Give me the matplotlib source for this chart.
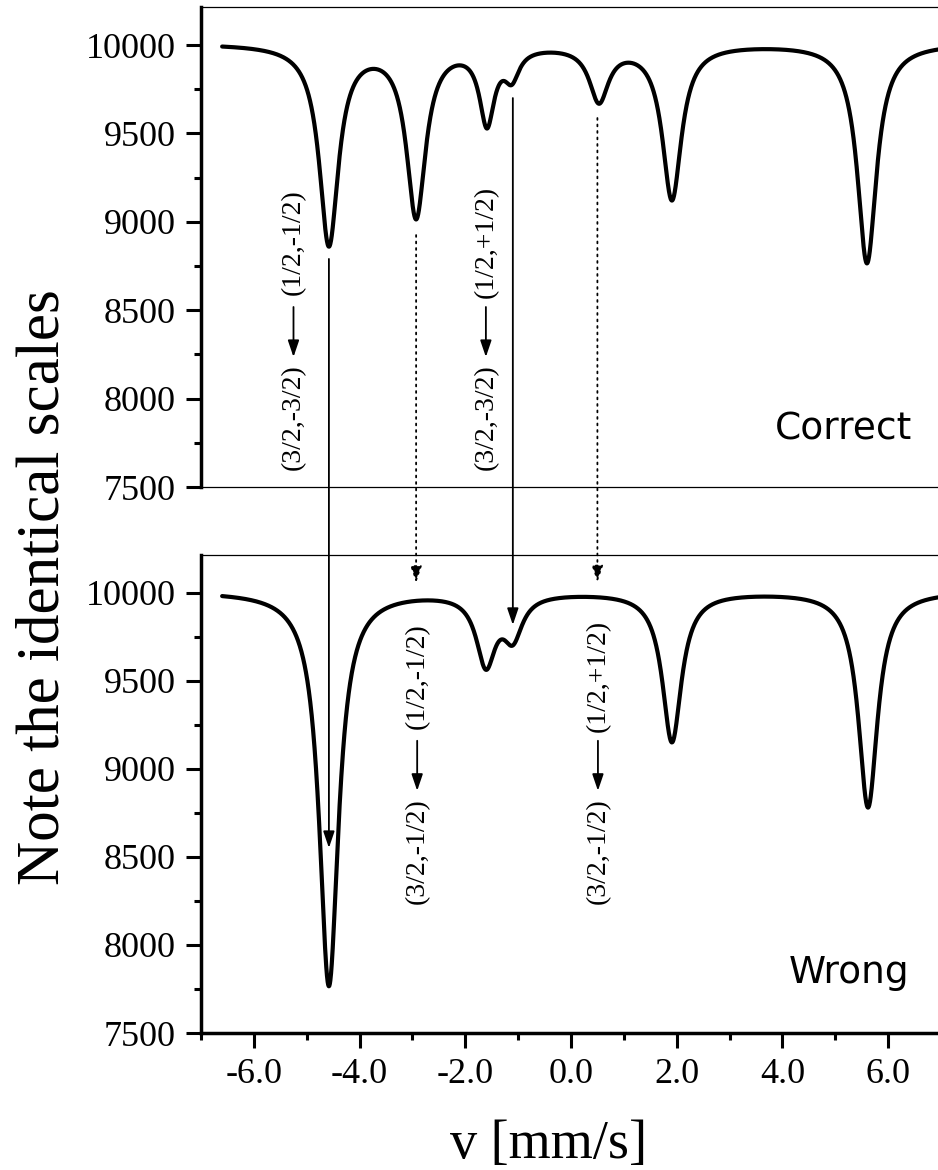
import numpy as np
import matplotlib
matplotlib.use("Agg")
import matplotlib.pyplot as plt
from matplotlib.patches import ConnectionPatch
from matplotlib.transforms import offset_copy
from matplotlib.ticker import MultipleLocator, FormatStrFormatter

plt.rcParams['font.family'] = ['Liberation Serif', 'DejaVu Serif']

# Lorentzian line parameters (velocity in mm/s, depth in counts)
baseline = 10010
v_start, v_end = -6.6, 6.95

pos_correct = [-4.58, -2.93, -1.59, -1.12, 0.53, 1.91, 5.60]
depth_correct = [1130, 965, 425, 157, 308, 873, 1240]
hwhm_correct = [0.22, 0.22, 0.17, 0.17, 0.22, 0.22, 0.22]

pos_wrong = [-4.58, -1.61, -1.10, 1.91, 5.62]
depth_wrong = [2240, 394, 232, 850, 1225]
hwhm_wrong = [0.22, 0.22, 0.22, 0.22, 0.22]

# transition labels: (velocity, count at centre, lower state, upper state)
labels_correct = [(-5.25, 8365, "(3/2,-3/2)", "(1/2,-1/2)"),
                  (-1.61, 8365, "(3/2,-3/2)", "(1/2,+1/2)")]
labels_wrong = [(-2.91, 9006, "(3/2,-1/2)", "(1/2,-1/2)"),
                (0.51, 9006, "(3/2,-1/2)", "(1/2,+1/2)")]

# arrows from the correct to the wrong panel: (velocity, start count, end count, style)
dotted = (0, (1, 2.6))
arrows = [(-4.58, 8790, 8551, '-'),
          (-2.93, 8925, 10057, dotted),
          (-1.10, 9700, 9818, '-'),
          (0.50, 9587, 10060, dotted)]


def spectrum(v, pos, depth, width):
    y = np.full_like(v, baseline, dtype=float)
    for p, d, g in zip(pos, depth, width):
        y -= d / (1 + ((v - p) / g) ** 2)
    return y


def transition_label(ax, x, y, low, up):
    ax.annotate(low, xy=(x, y), xytext=(0, -60), textcoords='offset points',
                rotation=90, fontsize=20, ha='center', va='center')
    ax.annotate(up, xy=(x, y), xytext=(0, 66), textcoords='offset points',
                rotation=90, fontsize=20, ha='center', va='center')
    tip = offset_copy(ax.transData, fig=ax.figure, x=0, y=-16.5, units='points')
    ax.annotate('', xy=(x, y), xycoords=tip, xytext=(0, 36), textcoords='offset points',
                arrowprops=dict(arrowstyle='-|>,head_length=0.5,head_width=0.17',
                                mutation_scale=20, lw=1.3, color='black',
                                shrinkA=0, shrinkB=0))


v = np.linspace(v_start, v_end, 3000)

fig = plt.figure(figsize=(9.38, 11.70), dpi=100)
ax_top = fig.add_axes([201 / 938, 1 - 487 / 1170, 737 / 938, 480 / 1170])
ax_bot = fig.add_axes([201 / 938, 1 - 1033 / 1170, 737 / 938, 478 / 1170])

panels = [(ax_top, pos_correct, depth_correct, hwhm_correct),
          (ax_bot, pos_wrong, depth_wrong, hwhm_wrong)]
for ax, pos, depth, width in panels:
    ax.plot(v, spectrum(v, pos, depth, width), color='black', lw=3.0, solid_capstyle='round')
    ax.set_xlim(-7.0, 6.944)
    ax.set_ylim(7500, 10215)
    ax.yaxis.set_major_locator(MultipleLocator(500))
    ax.yaxis.set_minor_locator(MultipleLocator(250))
    ax.xaxis.set_major_locator(MultipleLocator(2))
    ax.xaxis.set_minor_locator(MultipleLocator(1))
    ax.xaxis.set_major_formatter(FormatStrFormatter('%.1f'))
    ax.tick_params(which='major', direction='out', length=11, width=2.2, labelsize=26, pad=7)
    ax.tick_params(which='minor', direction='out', length=5, width=2.2)
    ax.spines['right'].set_visible(False)
    ax.spines['top'].set_linewidth(0.9)
    ax.spines['left'].set_linewidth(2.5)

ax_top.spines['bottom'].set_linewidth(0.9)
ax_top.tick_params(axis='x', which='both', bottom=False, labelbottom=False)
ax_bot.spines['bottom'].set_linewidth(2.5)

ax_top.text(6.45, 7766, "Correct", family='DejaVu Sans', fontsize=27, ha='right', va='baseline')
ax_bot.text(6.40, 7784, "Wrong", family='DejaVu Sans', fontsize=27, ha='right', va='baseline')

for x, y, low, up in labels_correct:
    transition_label(ax_top, x, y, low, up)
for x, y, low, up in labels_wrong:
    transition_label(ax_bot, x, y, low, up)

for x, y0, y1, ls in arrows:
    con = ConnectionPatch(xyA=(x, y0), coordsA=ax_top.transData,
                          xyB=(x, y1), coordsB=ax_bot.transData,
                          arrowstyle='-|>,head_length=0.5,head_width=0.17',
                          mutation_scale=20, lw=1.3, linestyle=ls,
                          color='black', shrinkA=0, shrinkB=0)
    fig.add_artist(con)

fig.text(44 / 938, 1 - 587 / 1170, "Note the identical scales", rotation=90,
         fontsize=44, ha='center', va='center')
fig.text(549 / 938, 1 - 1145 / 1170, "v [mm/s]", fontsize=39, ha='center', va='center')

fig.savefig("out.png", dpi=100)
